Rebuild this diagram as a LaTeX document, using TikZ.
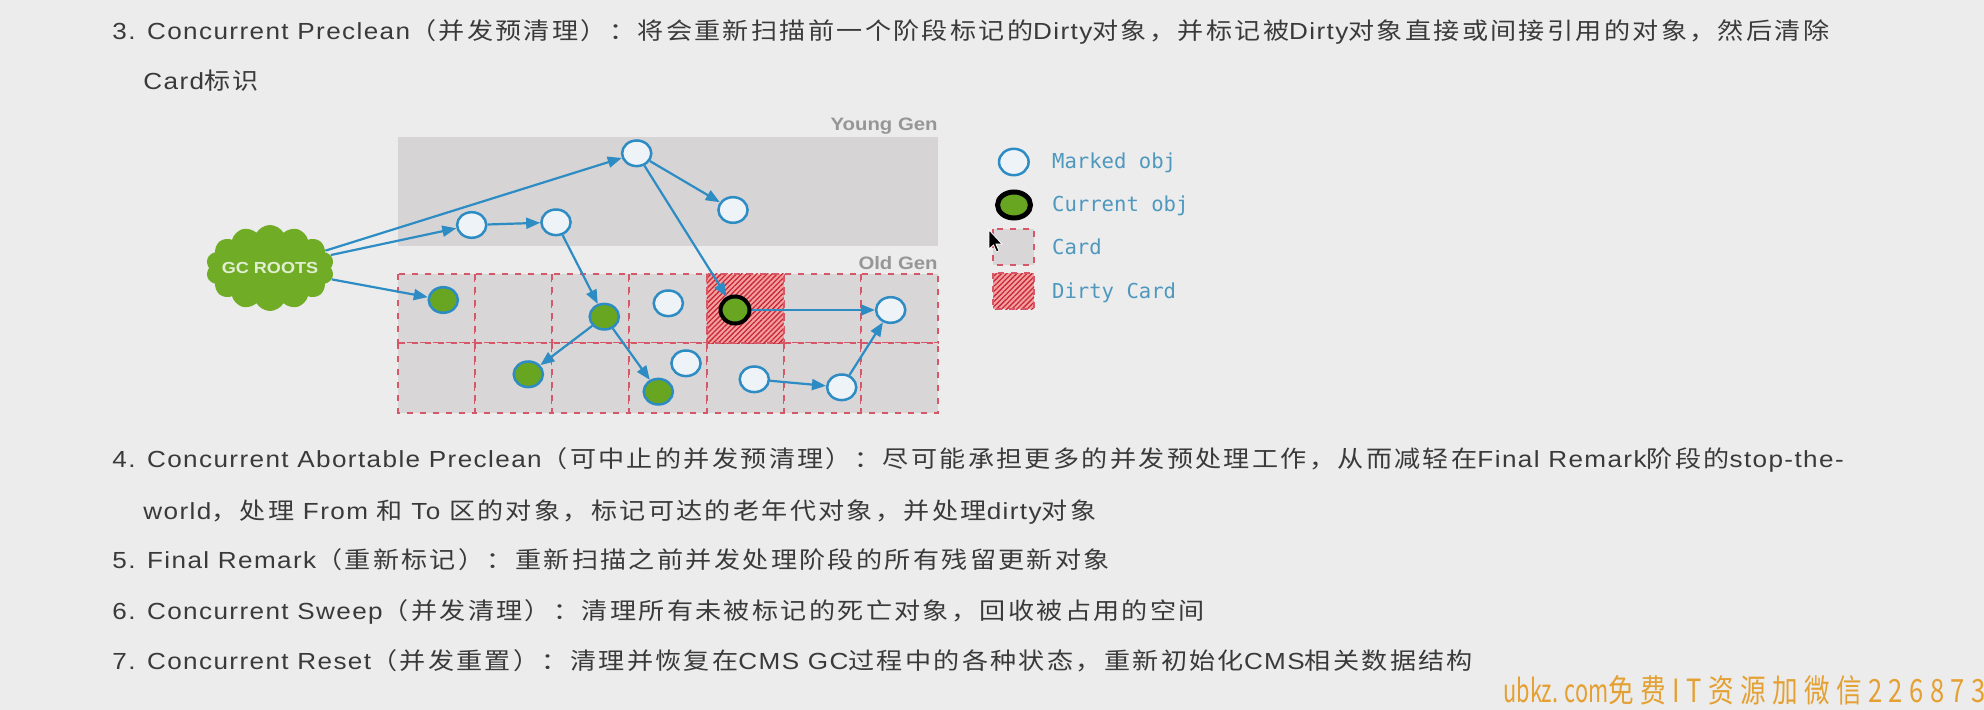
\documentclass[tikz,border=0pt]{standalone}
\usepackage{fontspec}
\setmainfont[FakeStretch=1.12,LetterSpace=6]{Liberation Sans}
\newfontfamily\cjk[FakeStretch=1.12,LetterSpace=10]{Noto Sans CJK SC}
\newfontfamily\lblfont[FakeStretch=1.13]{Liberation Sans}
\newfontfamily\monofont{DejaVu Sans Mono}
\newfontfamily\wmfont[FakeStretch=0.8,LetterSpace=20]{Noto Sans CJK SC}
\newfontfamily\wmlat[FakeStretch=0.68]{Noto Sans CJK SC}
\usetikzlibrary{shapes.geometric,shapes.symbols,arrows.meta,patterns.meta}

\definecolor{bg}{RGB}{236,236,236}
\definecolor{txt}{RGB}{58,58,58}
\definecolor{gen}{RGB}{214,212,212}
\definecolor{card}{RGB}{216,214,214}
\definecolor{cardline}{RGB}{214,88,104}
\definecolor{dirtyfill}{RGB}{245,160,160}
\definecolor{dirtyline}{RGB}{200,40,55}
\definecolor{objblue}{RGB}{45,140,195}
\definecolor{objwhite}{RGB}{238,243,248}
\definecolor{objgreen}{RGB}{104,165,32}
\definecolor{cloudgreen}{RGB}{112,172,38}
\definecolor{cloudtext}{RGB}{225,238,210}
\definecolor{genlabel}{RGB}{150,150,150}
\definecolor{legendtext}{RGB}{78,152,190}
\definecolor{wm}{RGB}{228,160,50}

\tikzset{
  textline/.style={font=\fontsize{11.65pt}{14pt}\selectfont, text=txt, anchor=base west, inner sep=0pt},
  marked/.style={ellipse, draw=objblue, line width=1.25pt, fill=objwhite, minimum width=14.6pt, minimum height=12.8pt, inner sep=0pt},
  greenobj/.style={marked, fill=objgreen},
  currobj/.style={ellipse, draw=black, line width=2pt, fill=objgreen, minimum width=14.5pt, minimum height=13.5pt, inner sep=0pt},
  ref/.style={draw=objblue, line width=1.1pt, -{Triangle[length=7pt,width=5.5pt]}},
  cardcell/.style={fill=card, draw=cardline, line width=1pt, dash pattern=on 3pt off 3.5pt},
  cardborder/.style={draw=cardline, line width=1pt, dash pattern=on 3pt off 3.5pt},
  stripes/.style={pattern={Lines[angle=45,distance=1.8pt,line width=0.65pt]}, pattern color=dirtyline},
  genlbl/.style={font=\lblfont\bfseries\fontsize{9pt}{10pt}\selectfont, text=genlabel, anchor=base east, inner sep=0pt},
  legend/.style={font=\monofont\fontsize{10.3pt}{12pt}\selectfont, text=legendtext, anchor=base west, inner sep=0pt},
  gcroots/.style={cloud, cloud puffs=14, cloud puff arc=120, aspect=1.6, fill=cloudgreen, minimum width=64pt, minimum height=43pt, inner sep=0pt, text=cloudtext, font=\lblfont\bfseries\fontsize{8pt}{10pt}\selectfont},
  wmark/.style={font=\wmfont\fontsize{16pt}{18pt}\selectfont, text=wm, anchor=base west, inner sep=0pt}
}

\begin{document}
\begin{tikzpicture}[x=0.5pt,y=-0.5pt]
\useasboundingbox (0,0) rectangle (1984,710);
\fill[bg] (0,0) rectangle (1984,710);

% text lines
\node[textline] (l1) at (112,40) {3. Concurrent Preclean{\cjk （并发预清理）：将会重新扫描前一个阶段标记的}Dirty{\cjk 对象，并标记被}Dirty{\cjk 对象直接或间接引用的对象，然后清除}};
\node[textline] (l2) at (143,90) {Card{\cjk 标识}};
\node[textline] (l4) at (112,467) {4. Concurrent Abortable Preclean{\cjk （可中止的并发预清理）：尽可能承担更多的并发预处理工作，从而减轻在}Final Remark{\cjk 阶段的}stop-the-};
\node[textline] (l4b) at (143,519) {world{\cjk ，处理} From {\cjk 和} To {\cjk 区的对象，标记可达的老年代对象，并处理}dirty{\cjk 对象}};
\node[textline] (l5) at (112,568) {5. Final Remark{\cjk （重新标记）：重新扫描之前并发处理阶段的所有残留更新对象}};
\node[textline] (l6) at (112,619) {6. Concurrent Sweep{\cjk （并发清理）：清理所有未被标记的死亡对象，回收被占用的空间}};
\node[textline] (l7) at (112,669) {7. Concurrent Reset{\cjk （并发重置）：清理并恢复在}CMS GC{\cjk 过程中的各种状态，重新初始化}CMS{\cjk 相关数据结构}};

% generations
\fill[gen] (398,137) rectangle (938,246);
\node[genlbl] (young) at (938,131) {Young Gen};
\node[genlbl] (old) at (938,270) {Old Gen};
\foreach \c in {0,...,6}{
  \foreach \r in {0,1}{
    \path[cardcell] ({398+77.143*\c},{274+69.5*\r}) rectangle ({398+77.143*(\c+1)},{274+69.5*(\r+1)});
  }
}
\fill[dirtyfill] (706.6,274) rectangle (783.7,343.5);
\fill[stripes] (706.6,274) rectangle (783.7,343.5);
\draw[cardborder] (706.6,274) rectangle (783.7,343.5);

% objects
\node[gcroots] (gc) at (270,268) {\makebox[0pt]{GC ROOTS}};
\node[marked] (y1) at (636.7,153.3) {};
\node[marked] (y2) at (471.7,225) {};
\node[marked] (y3) at (556,222.3) {};
\node[marked] (y4) at (733,210) {};
\node[greenobj] (o1) at (443.3,300) {};
\node[greenobj] (o2) at (604.3,316.7) {};
\node[marked] (o3) at (668.3,303.3) {};
\node[greenobj] (o4) at (528.3,374.3) {};
\node[greenobj] (o5) at (658.3,391.7) {};
\node[marked] (o6) at (686,363.3) {};
\node[currobj] (cur) at (735,310) {};
\node[marked] (o7) at (890.7,310) {};
\node[marked] (o8) at (754.3,379.3) {};
\node[marked] (o9) at (841.7,387.3) {};

% references
\draw[ref] (gc) -- (y1);
\draw[ref] (gc) -- (y2);
\draw[ref] (gc) -- (o1);
\draw[ref] (y2) -- (y3);
\draw[ref] (y1) -- (y4);
\draw[ref] (y1) -- (cur);
\draw[ref] (y3) -- (o2);
\draw[ref] (o2) -- (o4);
\draw[ref] (o2) -- (o5);
\draw[ref] (cur) -- (o7);
\draw[ref] (o8) -- (o9);
\draw[ref] (o9) -- (o7);

% legend
\node[marked, minimum width=14.8pt, minimum height=13.2pt] (lm) at (1013.8,162) {};
\node[currobj, line width=2.5pt, minimum width=16.5pt, minimum height=13pt] (lc) at (1014,205) {};
\path[cardcell] (993.3,229.3) rectangle (1034,265);
\fill[dirtyfill] (993.3,273.3) rectangle (1034,309.3);
\fill[stripes] (993.3,273.3) rectangle (1034,309.3);
\draw[cardborder] (993.3,273.3) rectangle (1034,309.3);
\node[legend] (tm) at (1051.7,169) {Marked obj};
\node[legend] (tc) at (1051.7,212) {Current obj};
\node[legend] (tk) at (1051.7,255) {Card};
\node[legend] (td) at (1051.7,298.5) {Dirty Card};

% mouse pointer
\filldraw[fill=black, draw=white, line width=0.4pt] (989,230) -- (989,249) -- (993.5,245) -- (996.5,252) -- (999,251) -- (996,244) -- (1002,244) -- cycle;

% watermark
\begin{scope}
\clip (0,0) rectangle (1984,710);
\node[wmark] (wmk) at (1503,702) {{\wmlat ubkz. com}免费IT资源加微信226873};
\end{scope}
\end{tikzpicture}
\end{document}
